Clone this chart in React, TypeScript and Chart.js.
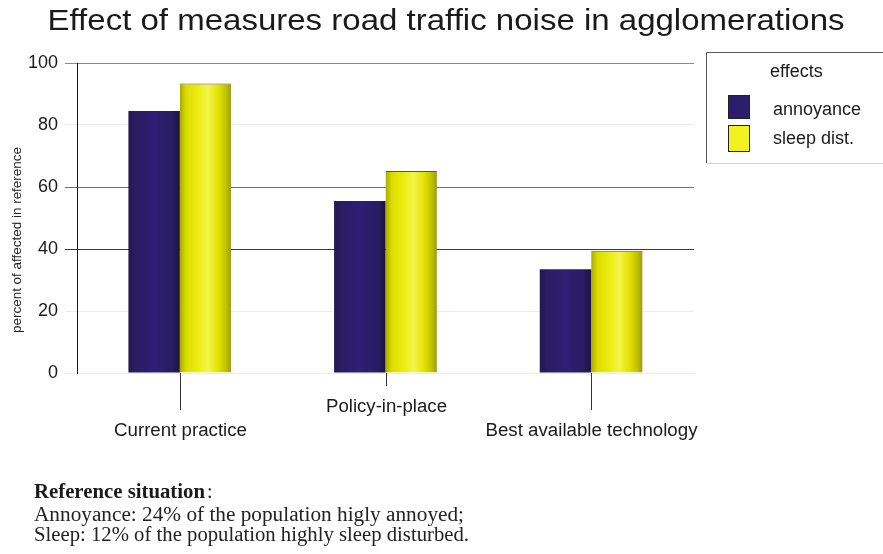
import React, { useEffect, useRef } from "react";
import { Chart, registerables } from "chart.js";

Chart.register(...registerables);

const TITLE = "Effect of measures road traffic noise in agglomerations";
const Y_TITLE = "percent of affected in reference";
const CATEGORIES = ["Current practice", "Policy-in-place", "Best available technology"];
const ANNOYANCE = [84.5, 55.5, 33.5];
const SLEEP_DIST = [93.4, 65.2, 39.4];
const SERIES_NAMES = ["annoyance", "sleep dist."];
const LEGEND_TITLE = "effects";
const Y_TICKS = [0, 20, 40, 60, 80, 100];
const NOTE_HEADING = "Reference situation";
const NOTE_LINES = [
  "Annoyance: 24% of the population higly annoyed;",
  "Sleep: 12% of the population highly sleep disturbed.",
];

const SANS = '"Liberation Sans", Arial, sans-serif';
const SERIF = '"Liberation Serif", "Times New Roman", serif';

// Draws text so that it spans `target` px by a horizontal scale.
function drawFit(
  ctx: CanvasRenderingContext2D,
  text: string,
  x: number,
  y: number,
  font: string,
  color: string,
  align: "left" | "center",
  target?: number
) {
  ctx.save();
  ctx.font = font;
  ctx.fillStyle = color;
  ctx.textBaseline = "alphabetic";
  ctx.textAlign = "left";
  const w = ctx.measureText(text).width;
  const tw = target || w;
  const left = align === "center" ? x - tw / 2 : x;
  ctx.translate(left, y);
  ctx.scale(tw / w, 1);
  ctx.fillText(text, 0, 0);
  ctx.restore();
  return tw;
}

function barGradient(ctx: any, which: number) {
  const chart = ctx.chart;
  const area = chart.chartArea;
  if (!area || ctx.dataIndex == null || !chart.scales.x) {
    return which === 0 ? "#2b1e6e" : "#eaea10";
  }
  const center = chart.scales.x.getPixelForValue(ctx.dataIndex);
  const catW = area.width / CATEGORIES.length;
  const barW = (catW * 0.5) / 2;
  const x0 = which === 0 ? center - barW : center;
  const g = chart.ctx.createLinearGradient(x0, 0, x0 + barW, 0);
  if (which === 0) {
    g.addColorStop(0, "#221a4e");
    g.addColorStop(0.15, "#2a1d62");
    g.addColorStop(0.5, "#2e1f74");
    g.addColorStop(0.85, "#281c62");
    g.addColorStop(1, "#1c1442");
  } else {
    g.addColorStop(0, "#aaa800");
    g.addColorStop(0.12, "#dcdc00");
    g.addColorStop(0.35, "#ecec10");
    g.addColorStop(0.55, "#f4f44c");
    g.addColorStop(0.75, "#e2e200");
    g.addColorStop(0.9, "#c0c000");
    g.addColorStop(1, "#9c9a20");
  }
  return g;
}

const gridColor = (ctx: any) => {
  const v = ctx.tick ? ctx.tick.value : 0;
  if (v === 100) return "#8a8a8a";
  if (v === 60) return "#707070";
  if (v === 40) return "#3a3a3a";
  return "#ececec";
};

const decorPlugin = {
  id: "decor",
  afterDraw(chart: any) {
    const ctx: CanvasRenderingContext2D = chart.ctx;
    const area = chart.chartArea;
    const xs = chart.scales.x;

    // Title
    drawFit(ctx, TITLE, 446, 30, `29px ${SANS}`, "#1a1a1a", "center", 797);

    // Y axis title
    ctx.save();
    ctx.translate(21, 240);
    ctx.rotate(-Math.PI / 2);
    drawFit(ctx, Y_TITLE, 0, 0, `12px ${SANS}`, "#222", "center", 186);
    ctx.restore();

    // Category ticks and labels (staggered)
    const labelWidths = [133, 121, 212];
    CATEGORIES.forEach((c, i) => {
      const x = Math.round(xs.getPixelForValue(i)) + 0.5;
      const low = i % 2 === 1;
      ctx.save();
      ctx.strokeStyle = "#333";
      ctx.lineWidth = 1;
      ctx.beginPath();
      ctx.moveTo(x, area.bottom);
      ctx.lineTo(x, low ? 386 : 410);
      ctx.stroke();
      ctx.restore();
      drawFit(ctx, c, x, low ? 412 : 436, `18px ${SANS}`, "#1a1a1a", "center", labelWidths[i]);
    });

    // Legend
    ctx.save();
    ctx.lineWidth = 1;
    ctx.strokeStyle = "#555";
    ctx.beginPath();
    ctx.moveTo(706.5, 163);
    ctx.lineTo(706.5, 52.5);
    ctx.lineTo(883, 52.5);
    ctx.stroke();
    ctx.strokeStyle = "#d0d0d0";
    ctx.beginPath();
    ctx.moveTo(706.5, 163.5);
    ctx.lineTo(883, 163.5);
    ctx.stroke();
    ctx.restore();
    drawFit(ctx, LEGEND_TITLE, 770, 77, `18px ${SANS}`, "#1a1a1a", "left");
    const swatchFill = ["#2b1e6e", "#f2f21e"];
    const swatchY = [95, 125];
    const swatchH = [24, 27];
    const textY = [115, 144];
    SERIES_NAMES.forEach((name, i) => {
      ctx.save();
      ctx.fillStyle = swatchFill[i];
      ctx.fillRect(728, swatchY[i], 22, swatchH[i]);
      ctx.strokeStyle = "#222";
      ctx.lineWidth = 1;
      ctx.strokeRect(728.5, swatchY[i] + 0.5, 21, swatchH[i] - 1);
      ctx.restore();
      drawFit(ctx, name, 773, textY[i], `18px ${SANS}`, "#1a1a1a", "left");
    });

    // Footnote
    const hw = drawFit(ctx, NOTE_HEADING, 34, 498, `bold 20px ${SERIF}`, "#1a1a1a", "left", 171);
    drawFit(ctx, ":", 34 + hw + 2, 498, `20px ${SERIF}`, "#1a1a1a", "left");
    const noteW = [430, 435];
    const noteY = [521, 541];
    NOTE_LINES.forEach((l, i) => {
      drawFit(ctx, l, 34, noteY[i], `20px ${SERIF}`, "#222", "left", noteW[i]);
    });
  },
};

export default function App() {
  const ref = useRef<HTMLCanvasElement | null>(null);

  useEffect(() => {
    if (!ref.current) return;
    const chart = new Chart(ref.current, {
      type: "bar",
      data: {
        labels: CATEGORIES,
        datasets: [
          {
            label: SERIES_NAMES[0],
            data: ANNOYANCE,
            backgroundColor: (c: any) => barGradient(c, 0),
            borderWidth: 0,
          },
          {
            label: SERIES_NAMES[1],
            data: SLEEP_DIST,
            backgroundColor: (c: any) => barGradient(c, 1),
            borderColor: "#555",
            borderWidth: { top: 1, left: 0, right: 0, bottom: 0 },
            borderSkipped: false,
          },
        ],
      },
      options: {
        responsive: false,
        animation: false,
        devicePixelRatio: 1,
        events: [],
        layout: { padding: { left: 0, top: 63, right: 189, bottom: 181 } },
        datasets: { bar: { categoryPercentage: 0.5, barPercentage: 1 } },
        plugins: {
          legend: { display: false },
          title: { display: false },
          tooltip: { enabled: false },
        },
        scales: {
          x: {
            type: "category",
            offset: true,
            grid: { display: false },
            border: { display: false },
            ticks: { display: false },
            afterFit: (s: any) => {
              s.height = 0;
            },
          },
          y: {
            min: 0,
            max: 100,
            afterBuildTicks: (s: any) => {
              s.ticks = Y_TICKS.map((v) => ({ value: v }));
            },
            ticks: {
              font: { family: SANS, size: 18 },
              color: "#1a1a1a",
              padding: 7,
            },
            grid: {
              color: gridColor,
              tickColor: gridColor,
              tickLength: 12,
              lineWidth: 1,
            },
            border: { display: true, color: "#1a1a1a", width: 1 },
            afterFit: (s: any) => {
              s.width = 77;
            },
          },
        },
      },
      plugins: [decorPlugin],
    } as any);
    return () => chart.destroy();
  }, []);

  return (
    <div style={{ position: "absolute", left: 0, top: 0, width: 883, height: 554, background: "#fff" }}>
      <canvas ref={ref} width={883} height={554} style={{ display: "block" }} />
    </div>
  );
}
